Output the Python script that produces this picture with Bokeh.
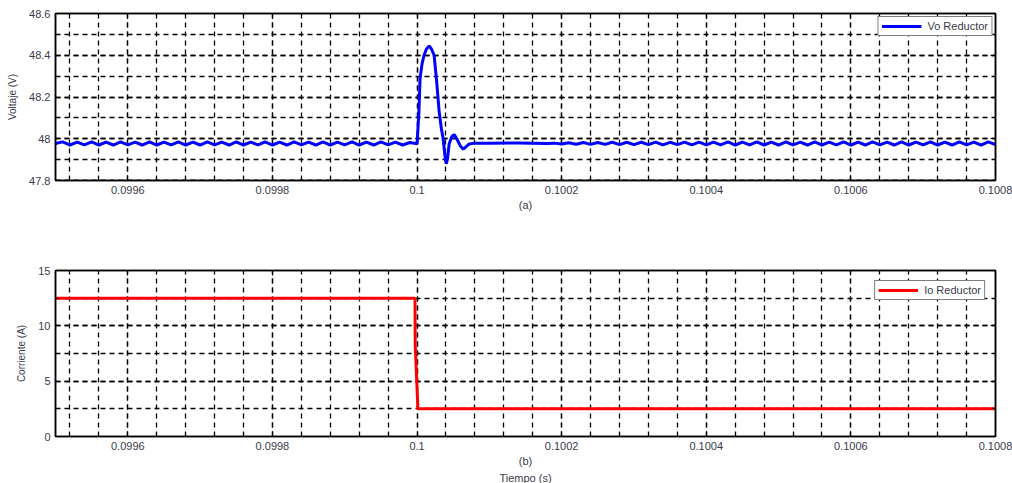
import numpy as np
from bokeh.plotting import figure
from bokeh.models import (Range1d, SingleIntervalTicker, LinearAxis, CustomJSTickFormatter,
                          Title, Legend, LegendItem)
from bokeh.layouts import column
from bokeh.embed import file_html
from bokeh.resources import INLINE

# ---------------- data ----------------
# Vo ripple before the load step, sampled every 10 us from 0.09950 s
vo_pre_start = 0.09950
vo_step = 1e-5
vo_pre = [
    47.977, 47.985, 47.970, 47.984, 47.971, 47.985, 47.970, 47.984, 47.970, 47.985,
    47.971, 47.984, 47.970, 47.985, 47.970, 47.984, 47.971, 47.985, 47.970, 47.984,
    47.970, 47.985, 47.971, 47.984, 47.970, 47.985, 47.970, 47.984, 47.971, 47.985,
    47.970, 47.984, 47.970, 47.985, 47.971, 47.984, 47.970, 47.985, 47.970, 47.984,
    47.971, 47.985, 47.970, 47.984, 47.970, 47.985, 47.971, 47.984, 47.970, 47.982,
]
# transient after the step
vo_tr_t = [0.1000000, 0.1000025, 0.1000042, 0.1000070, 0.1000097, 0.1000130, 0.1000167,
           0.1000200, 0.1000236, 0.1000270, 0.1000306, 0.1000336, 0.1000361, 0.1000385,
           0.1000403, 0.1000420, 0.1000444, 0.1000480, 0.1000514, 0.1000550, 0.1000600,
           0.1000639, 0.1000680, 0.1000722, 0.1000800, 0.1001000, 0.1001400, 0.1001800]
vo_tr_v = [47.976, 48.120, 48.290, 48.360, 48.400, 48.430, 48.445,
           48.430, 48.400, 48.280, 48.130, 48.050, 48.000, 47.920,
           47.880, 47.900, 47.975, 48.010, 48.020, 48.000, 47.965,
           47.950, 47.962, 47.975, 47.979, 47.978, 47.980, 47.977]
# ripple after the transient, every 10 us from 0.10019 s
vo_post_start = 0.10019
vo_post = [
    47.979, 47.975, 47.981, 47.974, 47.982, 47.973, 47.982, 47.973, 47.983, 47.972,
    47.983, 47.972, 47.983, 47.972, 47.984, 47.971, 47.983, 47.972, 47.984, 47.971,
    47.984, 47.971, 47.984, 47.971, 47.985, 47.970, 47.984, 47.971, 47.985, 47.970,
    47.984, 47.970, 47.985, 47.971, 47.984, 47.970, 47.985, 47.970, 47.984, 47.971,
    47.985, 47.970, 47.984, 47.970, 47.985, 47.971, 47.984, 47.970, 47.985, 47.970,
    47.984, 47.971, 47.985, 47.970, 47.984, 47.970, 47.985, 47.971, 47.984, 47.970,
    47.985, 47.972,
]
# output current
io_t = [0.09950, 0.0999972, 0.0999975, 0.1000012, 0.10080]
io_v = [12.5, 12.5, 8.2, 2.5, 2.5]

x_lims = (0.09950, 0.10080)
vo_lims = (47.8, 48.6)
io_lims = (0, 15)

vo_label = "Vo Reductor"
io_label = "Io Reductor"
# ---------------------------------------

vo_t = np.concatenate([vo_pre_start + vo_step * np.arange(len(vo_pre)),
                       np.array(vo_tr_t),
                       vo_post_start + vo_step * np.arange(len(vo_post))])
vo_v = np.concatenate([vo_pre, vo_tr_v, vo_post])

FONT = "Liberation Sans"
TXT = "#3a3a4a"
fmt_code = "return String(Number(tick.toFixed(5)));"


def make_fig(height, b_top, b_bottom, ylims, yint, ylabel, xlabel):
    p = figure(width=1012, height=height, x_range=Range1d(*x_lims), y_range=Range1d(*ylims),
               output_backend="svg", toolbar_location=None,
               min_border_left=55, min_border_right=17,
               min_border_top=b_top, min_border_bottom=b_bottom)
    p.background_fill_color = "white"
    p.border_fill_color = "white"
    p.outline_line_color = "black"
    p.outline_line_width = 1.5

    xt = SingleIntervalTicker(interval=0.0002, num_minor_ticks=5)
    yt = SingleIntervalTicker(interval=yint, num_minor_ticks=2)
    p.xaxis.ticker = xt
    p.yaxis.ticker = yt
    p.xgrid.ticker = xt
    p.ygrid.ticker = yt
    p.xaxis.formatter = CustomJSTickFormatter(code=fmt_code)
    p.yaxis.formatter = CustomJSTickFormatter(code=fmt_code)

    for ax in (p.xaxis, p.yaxis):
        ax.axis_line_color = "black"
        ax.axis_line_width = 1.5
        ax.major_tick_in = 5
        ax.major_tick_out = 0
        ax.minor_tick_in = 3
        ax.minor_tick_out = 0
        ax.major_tick_line_color = "black"
        ax.minor_tick_line_color = "black"
        ax.major_label_text_font = FONT
        ax.major_label_text_font_size = "11px"
        ax.major_label_text_color = TXT
        ax.axis_label_text_font = FONT
        ax.axis_label_text_font_size = "11px"
        ax.axis_label_text_font_style = "normal"
        ax.axis_label_text_color = TXT
    p.xaxis.major_label_standoff = 5
    p.yaxis.major_label_standoff = 5
    p.xaxis.axis_label = xlabel
    p.yaxis.axis_label = ylabel
    p.xaxis.axis_label_standoff = 2
    p.yaxis.axis_label_standoff = 8
    p.yaxis.axis_label_text_font_size = "10px"

    for g in (p.xgrid, p.ygrid):
        g.grid_line_color = "black"
        g.grid_line_width = 1.3
        g.grid_line_dash = "5 4"
        g.minor_grid_line_color = "black"
        g.minor_grid_line_width = 1.3
        g.minor_grid_line_dash = "5 4"

    # ticks on the top and right edges (no labels)
    blank = CustomJSTickFormatter(code="return '';")
    top = LinearAxis(ticker=xt, formatter=blank, major_label_text_font_size="1px",
                     major_label_standoff=0,
                     major_tick_in=5, major_tick_out=0, minor_tick_in=3, minor_tick_out=0,
                     axis_line_color="black", axis_line_width=1.5)
    right = LinearAxis(ticker=yt, formatter=blank, major_label_text_font_size="1px",
                       major_label_standoff=0,
                       major_tick_in=5, major_tick_out=0, minor_tick_in=3, minor_tick_out=0,
                       axis_line_color="black", axis_line_width=1.5)
    p.add_layout(top, "above")
    p.add_layout(right, "right")
    return p


p1 = make_fig(250, 13, 70, vo_lims, 0.2, "Voltaje (V)", "(a)")
r1 = p1.line(vo_t, vo_v, line_color="#0000ff", line_width=3)
leg1 = Legend(items=[LegendItem(label=vo_label, renderers=[r1])], location="top_right",
              margin=3, padding=3, spacing=0, glyph_width=40, glyph_height=12,
              label_standoff=6, label_height=12, label_text_font=FONT,
              label_text_font_size="11px", label_text_color=TXT,
              border_line_color="black", border_line_width=1.2,
              background_fill_color="white", background_fill_alpha=1)
p1.add_layout(leg1)

p2 = make_fig(233, 20, 46, io_lims, 5, "Corriente (A)", "(b)")
r2 = p2.line(io_t, io_v, line_color="#ff0000", line_width=3)
leg2 = Legend(items=[LegendItem(label=io_label, renderers=[r2])], location="top_right",
              margin=10, padding=3, spacing=0, glyph_width=40, glyph_height=12,
              label_standoff=6, label_height=12, label_text_font=FONT,
              label_text_font_size="11px", label_text_color=TXT,
              border_line_color="black", border_line_width=1.2,
              background_fill_color="white", background_fill_alpha=1)
p2.add_layout(leg2)
t2 = Title(text="Tiempo (s)", align="center", text_font=FONT, text_font_size="11px",
           text_font_style="normal", text_color=TXT, standoff=0)
p2.add_layout(t2, "below")

layout = column(p1, p2, spacing=0)
open("out.html", "w").write(file_html(layout, INLINE))
